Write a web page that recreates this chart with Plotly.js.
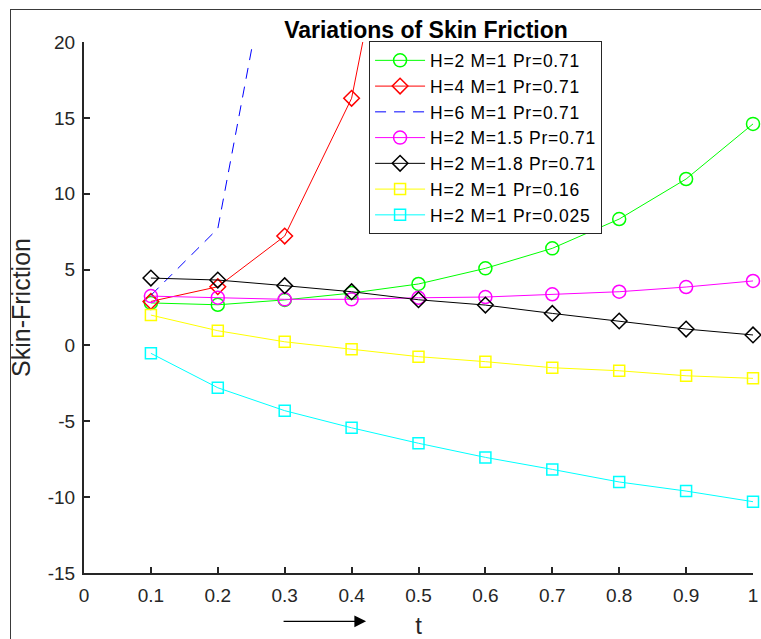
<!DOCTYPE html>
<html>
<head>
<meta charset="utf-8">
<script src="https://cdn.plot.ly/plotly-3.0.1.min.js"></script>
<style>
html,body{margin:0;padding:0;background:#fff;}
#wrap{position:relative;width:761px;height:639px;}
#chart{width:761px;height:639px;}
#frame{position:absolute;left:10px;top:9px;width:751px;height:630px;border-left:1.5px solid #3a3a3a;border-top:1.5px solid #3a3a3a;pointer-events:none;box-sizing:border-box;}
.legendtext{letter-spacing:0.75px;}
</style>
</head>
<body>
<div id="wrap"><div id="chart"></div><div id="frame"></div></div>
<script>
const t = [0.1, 0.2, 0.3, 0.4, 0.5, 0.6, 0.7, 0.8, 0.9, 1.0];
const names = [
  "H=2 M=1 Pr=0.71",
  "H=4 M=1 Pr=0.71",
  "H=6 M=1 Pr=0.71",
  "H=2 M=1.5 Pr=0.71",
  "H=2 M=1.8 Pr=0.71",
  "H=2 M=1 Pr=0.16",
  "H=2 M=1 Pr=0.025"
];
const h2m1pr071 = [2.80, 2.68, 3.00, 3.45, 4.05, 5.08, 6.40, 8.33, 10.97, 14.60];
const h4m1pr071 = [2.90, 3.87, 7.21, 16.29, 38.5];
const h6m1pr071 = [3.30, 7.70, 31.1];
const h2m15pr071 = [3.25, 3.15, 3.04, 3.04, 3.14, 3.19, 3.37, 3.54, 3.85, 4.25];
const h2m18pr071 = [4.44, 4.31, 3.94, 3.54, 3.01, 2.66, 2.11, 1.61, 1.08, 0.69];
const h2m1pr016 = [2.00, 0.97, 0.24, -0.26, -0.74, -1.07, -1.47, -1.67, -2.00, -2.17];
const h2m1pr0025 = [-0.52, -2.79, -4.30, -5.43, -6.45, -7.38, -8.17, -9.00, -9.60, -10.30];

const xTicks = [0, 0.1, 0.2, 0.3, 0.4, 0.5, 0.6, 0.7, 0.8, 0.9, 1];
const xTickText = ["0", "0.1", "0.2", "0.3", "0.4", "0.5", "0.6", "0.7", "0.8", "0.9", "1"];
const yTicks = [-15, -10, -5, 0, 5, 10, 15, 20];
const yTickText = ["-15", "-10", "-5", "0", "5", "10", "15", "20"];

function mk(y, name, color, symbol, size, clip, dash) {
  const tr = {
    x: t.slice(0, y.length), y: y, name: name, type: 'scatter',
    mode: symbol ? 'lines+markers' : 'lines',
    cliponaxis: clip,
    line: {color: color, width: 1, dash: dash || 'solid'}
  };
  if (symbol) tr.marker = {symbol: symbol, size: size, color: color, line: {color: color, width: 1.5}};
  return tr;
}

const data = [
  mk(h2m1pr071, names[0], '#00ff00', 'circle-open', 13, false),
  mk(h4m1pr071, names[1], '#ff0000', 'diamond-open', 12, true),
  mk(h6m1pr071, names[2], '#0000ff', null, 0, true, '11px,8px'),
  mk(h2m15pr071, names[3], '#ff00ff', 'circle-open', 13, false),
  mk(h2m18pr071, names[4], '#000000', 'diamond-open', 12, false),
  mk(h2m1pr016, names[5], '#ffff00', 'square-open', 11, false),
  mk(h2m1pr0025, names[6], '#00ffff', 'square-open', 11, false)
];

const FONT = 'Liberation Sans, Arial, sans-serif';
const axisCommon = {
  showgrid: false, zeroline: false, showline: true,
  linecolor: '#262626', linewidth: 2,
  ticks: 'inside', ticklen: 6, tickwidth: 2, tickcolor: '#262626',
  tickfont: {family: FONT, size: 19, color: '#262626'},
  mirror: false, automargin: false
};

const layout = {
  width: 761, height: 639,
  paper_bgcolor: '#ffffff', plot_bgcolor: '#ffffff',
  margin: {l: 83.5, r: 7.5, t: 41.5, b: 66.3, pad: 0},
  font: {family: FONT, color: '#000'},
  title: {
    text: '<b>Variations of Skin Friction</b>',
    font: {family: FONT, size: 23, color: '#000'},
    x: 426 / 761, xanchor: 'center', xref: 'container',
    y: 1 - 30 / 639, yanchor: 'middle', yref: 'container'
  },
  xaxis: Object.assign({}, axisCommon, {
    range: [0, 1], tickvals: xTicks, ticktext: xTickText,
    ticklabelstandoff: 4,
    title: {text: 't', font: {family: FONT, size: 24, color: '#262626'}, standoff: 14}
  }),
  yaxis: Object.assign({}, axisCommon, {
    range: [-15, 20], tickvals: yTicks, ticktext: yTickText,
    ticklabelstandoff: 3,
    title: {text: 'Skin-Friction', font: {family: FONT, size: 25, color: '#262626'}, standoff: 10}
  }),
  showlegend: true,
  legend: {
    x: (369 - 83.5) / 670, y: 1.001, xanchor: 'left', yanchor: 'top',
    bgcolor: '#ffffff', bordercolor: '#262626', borderwidth: 1,
    font: {family: FONT, size: 17.5, color: '#000'},
    itemwidth: 50, tracegroupgap: 0
  },
  annotations: [{
    xref: 'paper', yref: 'paper', x: (366 - 83.5) / 670, y: (572.7 - 621) / 531.2,
    ax: -84, ay: 0, axref: 'pixel', ayref: 'pixel',
    text: '', showarrow: true, arrowhead: 2, arrowsize: 1.8, arrowwidth: 1.3, arrowcolor: '#000'
  }]
};

Plotly.newPlot('chart', data, layout, {displayModeBar: false, staticPlot: true});
</script>
</body>
</html>
